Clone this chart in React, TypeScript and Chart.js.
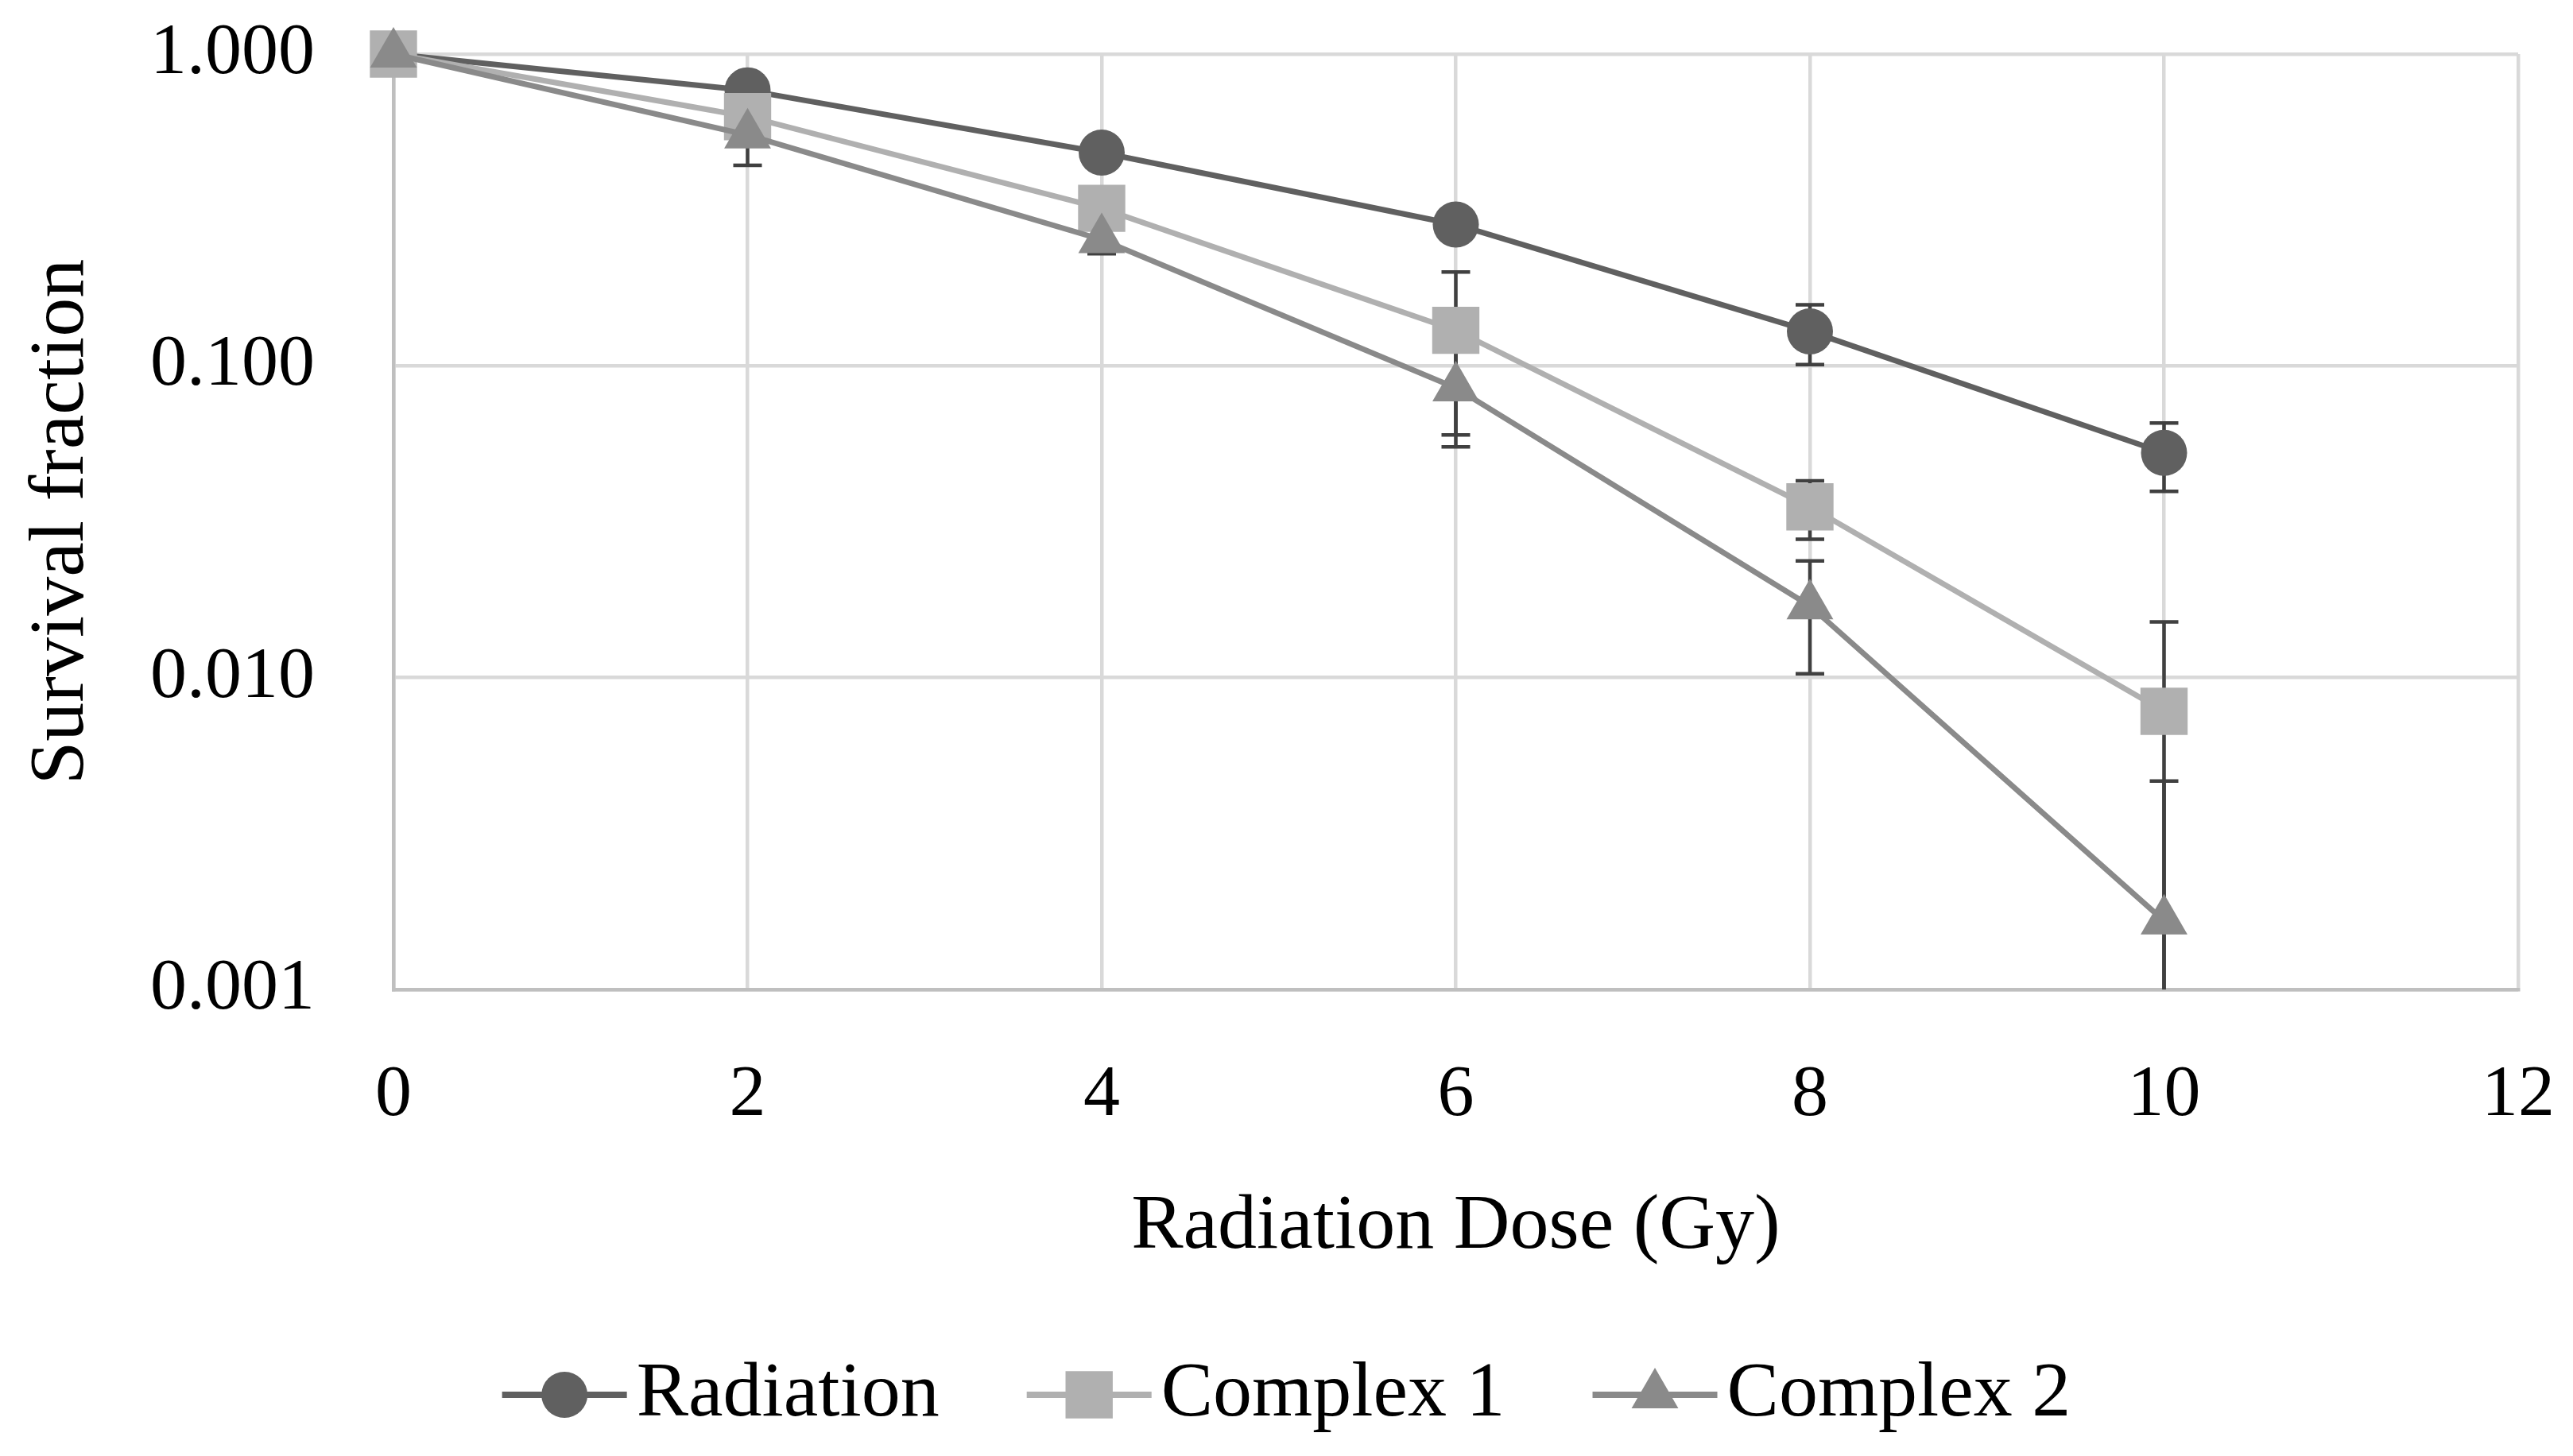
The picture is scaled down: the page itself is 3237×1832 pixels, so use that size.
import React, { useEffect, useRef } from 'react';
import { Chart, registerables } from 'chart.js';

Chart.register(...registerables);

const doses = [0, 2, 4, 6, 8, 10];
const radiation = [1.0, 0.765, 0.483, 0.284, 0.129, 0.0526];
const radiationErr = [0, 0.03, 0.03, 0.02, 0.028, 0.013];
const complex1 = [1.0, 0.63, 0.32, 0.13, 0.0353, 0.0078];
const complex1Err = [0, 0.05, 0.03, 0.07, 0.0075, 0.0073];
const complex2 = [1.0, 0.55, 0.254, 0.085, 0.017, 0.00166];
const complex2Err = [0, 0.11, 0.025, 0.03, 0.0067, 0.003];
const seriesNames = ['Radiation', 'Complex 1', 'Complex 2'];
const xTickValues = [0, 2, 4, 6, 8, 10, 12];
const yTickValues = [0.001, 0.01, 0.1, 1];

const FONT_FAMILY = '"Liberation Serif", "Times New Roman", serif';
const TICK_FONT = 92;
const TITLE_FONT = 98;
const LEGEND_FONT = 98;

function drawMarker(ctx: CanvasRenderingContext2D, style: string, x: number, y: number, r: number, color: string) {
  ctx.save();
  ctx.fillStyle = color;
  ctx.beginPath();
  if (style === 'circle') {
    ctx.arc(x, y, r, 0, Math.PI * 2);
  } else if (style === 'rect') {
    const s = r * Math.SQRT1_2;
    ctx.rect(x - s, y - s, 2 * s, 2 * s);
  } else if (style === 'triangle') {
    ctx.moveTo(x, y - r);
    ctx.lineTo(x + r * Math.sin(Math.PI / 3), y + r / 2);
    ctx.lineTo(x - r * Math.sin(Math.PI / 3), y + r / 2);
    ctx.closePath();
  }
  ctx.fill();
  ctx.restore();
}

const errorBarPlugin = {
  id: 'errorBars',
  beforeDatasetsDraw(chart: any) {
    const ctx = chart.ctx as CanvasRenderingContext2D;
    const xs = chart.scales.x;
    const ys = chart.scales.y;
    const area = chart.chartArea;
    const cap = 18;
    ctx.save();
    ctx.strokeStyle = '#404040';
    ctx.lineWidth = 4.5;
    chart.data.datasets.forEach((ds: any) => {
      const errs: number[] = ds.errors;
      if (!errs) return;
      ds.data.forEach((pt: any, i: number) => {
        const e = errs[i];
        if (!e) return;
        const px = xs.getPixelForValue(pt.x);
        const hiV = pt.y + e;
        const loV = pt.y - e;
        const hiClipped = hiV >= ys.max;
        const loClipped = loV <= ys.min;
        const hi = hiClipped ? area.top : ys.getPixelForValue(hiV);
        const lo = loClipped ? area.bottom : ys.getPixelForValue(loV);
        ctx.beginPath();
        ctx.moveTo(px, hi);
        ctx.lineTo(px, lo);
        if (!hiClipped) {
          ctx.moveTo(px - cap, hi);
          ctx.lineTo(px + cap, hi);
        }
        if (!loClipped) {
          ctx.moveTo(px - cap, lo);
          ctx.lineTo(px + cap, lo);
        }
        ctx.stroke();
      });
    });
    ctx.restore();
  },
};

const legendPlugin = {
  id: 'lineMarkerLegend',
  afterDraw(chart: any) {
    const ctx = chart.ctx as CanvasRenderingContext2D;
    ctx.save();
    ctx.font = `${LEGEND_FONT}px ${FONT_FAMILY}`;
    const lineLen = 157;
    const textGap = 12;
    const itemGap = 110;
    const items = chart.data.datasets.map((ds: any) => ({ ds, w: ctx.measureText(ds.label).width }));
    let total = 0;
    items.forEach((it: any, i: number) => {
      total += lineLen + textGap + it.w + (i > 0 ? itemGap : 0);
    });
    let xPos = chart.width / 2 - total / 2;
    const yc = chart.scales.x.bottom + 110;
    items.forEach((it: any) => {
      const ds = it.ds;
      ctx.strokeStyle = ds.borderColor;
      ctx.lineWidth = 8;
      ctx.beginPath();
      ctx.moveTo(xPos, yc);
      ctx.lineTo(xPos + lineLen, yc);
      ctx.stroke();
      drawMarker(ctx, ds.pointStyle, xPos + lineLen / 2, yc, ds.pointRadius, ds.backgroundColor);
      ctx.fillStyle = '#000';
      ctx.textBaseline = 'middle';
      ctx.textAlign = 'left';
      ctx.fillText(ds.label, xPos + lineLen + textGap, yc);
      xPos += lineLen + textGap + it.w + itemGap;
    });
    ctx.restore();
  },
};

export default function App() {
  const ref = useRef<HTMLCanvasElement>(null);

  useEffect(() => {
    if (!ref.current) return;
    const mk = (vals: number[]) => doses.map((d, i) => ({ x: d, y: vals[i] }));
    const tickFont = { family: FONT_FAMILY, size: TICK_FONT };
    const titleFont = { family: FONT_FAMILY, size: TITLE_FONT };
    const common = {
      pointBorderWidth: 0,
      pointHoverRadius: 0,
      borderWidth: 7,
      tension: 0,
      clip: false,
    };
    const chart = new Chart(ref.current, {
      type: 'line',
      data: {
        datasets: [
          {
            ...common,
            label: seriesNames[0],
            data: mk(radiation),
            errors: radiationErr,
            borderColor: '#606060',
            backgroundColor: '#606060',
            pointStyle: 'circle',
            pointRadius: 29,
            order: 2,
          } as any,
          {
            ...common,
            label: seriesNames[1],
            data: mk(complex1),
            errors: complex1Err,
            borderColor: '#b0b0b0',
            backgroundColor: '#b0b0b0',
            pointStyle: 'rect',
            pointRadius: 42,
            order: 1,
          } as any,
          {
            ...common,
            label: seriesNames[2],
            data: mk(complex2),
            errors: complex2Err,
            borderColor: '#8a8a8a',
            backgroundColor: '#8a8a8a',
            pointStyle: 'triangle',
            pointRadius: 34,
            order: 0,
          } as any,
        ],
      },
      options: {
        animation: false,
        responsive: true,
        maintainAspectRatio: false,
        devicePixelRatio: 1,
        layout: { autoPadding: false, padding: { top: 68, right: 69, bottom: 187, left: 0 } },
        plugins: {
          legend: { display: false },
          tooltip: { enabled: false },
        },
        scales: {
          x: {
            type: 'linear',
            min: 0,
            max: 12,
            afterBuildTicks: (s: any) => {
              s.ticks = xTickValues.map((v) => ({ value: v }));
            },
            afterFit: (s: any) => {
              s.height = 400;
              s.paddingLeft = 0;
              s.paddingRight = 0;
              s.paddingTop = 0;
              s.paddingBottom = 0;
            },
            ticks: { font: tickFont, color: '#000', padding: 79, maxRotation: 0 },
            grid: { color: '#d9d9d9', lineWidth: 4.5, drawTicks: false },
            border: { color: '#bfbfbf', width: 4.5 },
            title: {
              display: true,
              text: 'Radiation Dose (Gy)',
              font: titleFont,
              color: '#000',
              padding: { top: 0, bottom: 42 },
            },
          },
          y: {
            type: 'logarithmic',
            min: 0.001,
            max: 1,
            afterBuildTicks: (s: any) => {
              s.ticks = yTickValues.map((v) => ({ value: v }));
            },
            afterFit: (s: any) => {
              s.width = 495;
              s.paddingLeft = 0;
              s.paddingRight = 0;
              s.paddingTop = 0;
              s.paddingBottom = 0;
            },
            ticks: {
              font: tickFont,
              color: '#000',
              padding: 99,
              callback: (v: any) => Number(v).toFixed(3),
            },
            grid: { color: '#d9d9d9', lineWidth: 4.5, drawTicks: false },
            border: { color: '#bfbfbf', width: 4.5 },
            title: {
              display: true,
              text: 'Survival fraction',
              font: titleFont,
              color: '#000',
              padding: { top: 19, bottom: 0 },
            },
          },
        },
      } as any,
      plugins: [errorBarPlugin, legendPlugin],
    });
    return () => chart.destroy();
  }, []);

  return (
    <div
      style={{
        position: 'absolute',
        left: 0,
        top: 0,
        width: '3237px',
        height: '1832px',
        background: '#fff',
      }}
    >
      <canvas ref={ref} />
    </div>
  );
}
